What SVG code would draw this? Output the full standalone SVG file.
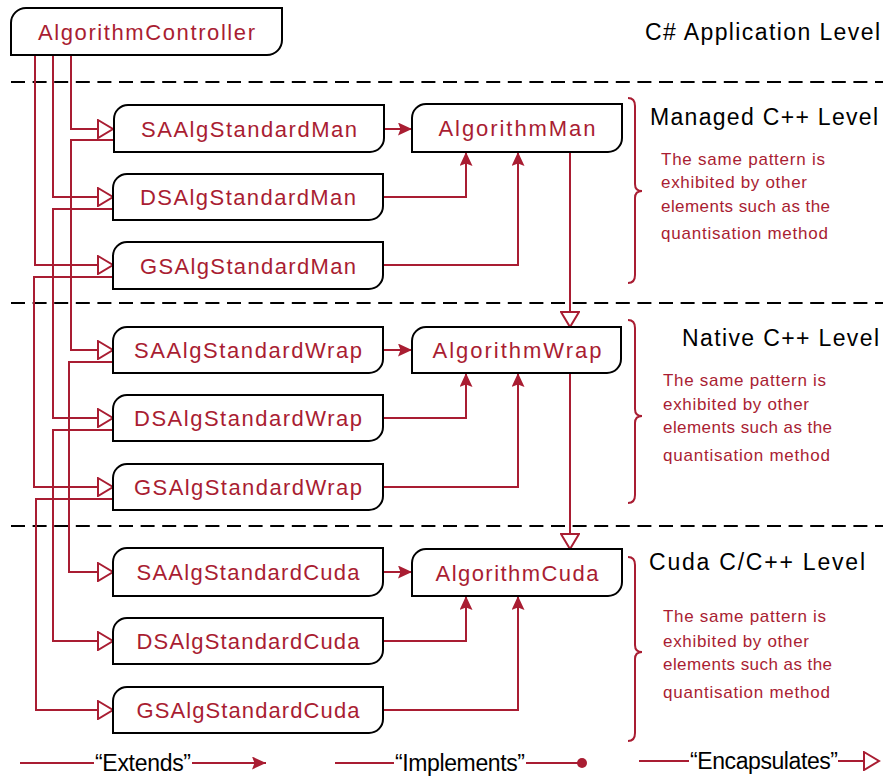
<svg xmlns="http://www.w3.org/2000/svg" width="883" height="776" viewBox="0 0 883 776">
<style>
.node{fill:#fff;stroke:#000;stroke-width:2}
.nt{font-family:"Liberation Sans",Arial,sans-serif;font-size:22px;fill:#a91d32;text-anchor:middle}
.lvl{font-family:"Liberation Sans",Arial,sans-serif;font-size:23px;fill:#000}
.desc{font-family:"Liberation Sans",Arial,sans-serif;font-size:17px;fill:#a91d32}
.leg{font-family:"Liberation Sans",Arial,sans-serif;font-size:23px;fill:#000}
.c{fill:none;stroke:#a91d32;stroke-width:2}
.enc{marker-end:url(#open)}
.imp{marker-end:url(#filled)}
.dash{stroke:#000;stroke-width:2;stroke-dasharray:14 7.6;fill:none}
.brace{fill:none;stroke:#a91d32;stroke-width:2}
</style>
<defs>
<marker id="open" markerUnits="userSpaceOnUse" markerWidth="18" markerHeight="20" refX="15" refY="9" orient="auto" viewBox="-1 -1 18 20">
<path d="M0,0 L15,9 L0,18 Z" fill="#fff" stroke="#a91d32" stroke-width="2" stroke-linejoin="miter"/>
</marker>
<marker id="filled" markerUnits="userSpaceOnUse" markerWidth="16" markerHeight="14" refX="14" refY="6.5" orient="auto" viewBox="0 0 16 14">
<path d="M0,0 L14,6.5 L0,13 L2.5,6.5 Z" fill="#a91d32"/>
</marker>
</defs>
<rect width="883" height="776" fill="#fff"/>

<g id="separators">
<path class="dash" d="M11,82 H883"/>
<path class="dash" d="M11,303 H883"/>
<path class="dash" d="M11,526 H883"/>
</g>

<g id="connectors">
<path class="c enc" d="M71,55 V129 H113"/>
<path class="c enc" d="M53,55 V197 H113"/>
<path class="c enc" d="M35,55 V265 H113"/>
<path class="c enc" d="M113,140 H71 V350 H113"/>
<path class="c enc" d="M113,209 H53 V418 H113"/>
<path class="c enc" d="M113,277 H34 V487 H113"/>
<path class="c enc" d="M113,362 H69 V572 H113"/>
<path class="c enc" d="M113,430 H53 V641 H113"/>
<path class="c enc" d="M113,499 H36 V710 H113"/>
<path class="c imp" d="M384,129 H412"/>
<path class="c imp" d="M383,197 H466 V152"/>
<path class="c imp" d="M383,265 H518 V152"/>
<path class="c imp" d="M383,350 H412"/>
<path class="c imp" d="M383,418 H466 V373"/>
<path class="c imp" d="M383,487 H518 V373"/>
<path class="c imp" d="M383,572 H412"/>
<path class="c imp" d="M383,641 H466 V596"/>
<path class="c imp" d="M383,710 H518 V596"/>
<path class="c enc" d="M570,152 V327"/>
<path class="c enc" d="M570,373 V549"/>
</g>

<g id="AlgorithmController">
<path class="node" d="M11,55 V23 A15,15 0 0 1 26,8 H282 V40 A15,15 0 0 1 267,55 Z"/>
<text class="nt" x="146.5" y="40" textLength="217">AlgorithmController</text>
</g>

<g id="SAAlgStandardMan">
<path class="node" d="M114,152 V119 A14,14 0 0 1 128,105 H384 V138 A14,14 0 0 1 370,152 Z"/>
<text class="nt" x="249" y="137" textLength="216">SAAlgStandardMan</text>
</g>
<g id="DSAlgStandardMan">
<path class="node" d="M113,220 V188 A14,14 0 0 1 127,174 H383 V206 A14,14 0 0 1 369,220 Z"/>
<text class="nt" x="248" y="205" textLength="216">DSAlgStandardMan</text>
</g>
<g id="GSAlgStandardMan">
<path class="node" d="M113,289 V256 A14,14 0 0 1 127,242 H383 V275 A14,14 0 0 1 369,289 Z"/>
<text class="nt" x="248" y="273.5" textLength="216">GSAlgStandardMan</text>
</g>
<g id="AlgorithmMan">
<path class="node" d="M412,152 V118 A14,14 0 0 1 426,104 H622 V138 A14,14 0 0 1 608,152 Z"/>
<text class="nt" x="517" y="136" textLength="157">AlgorithmMan</text>
</g>

<g id="SAAlgStandardWrap">
<path class="node" d="M113,373 V341 A14,14 0 0 1 127,327 H383 V359 A14,14 0 0 1 369,373 Z"/>
<text class="nt" x="248" y="358" textLength="228">SAAlgStandardWrap</text>
</g>
<g id="DSAlgStandardWrap">
<path class="node" d="M113,441 V409 A14,14 0 0 1 127,395 H383 V427 A14,14 0 0 1 369,441 Z"/>
<text class="nt" x="248" y="426" textLength="228">DSAlgStandardWrap</text>
</g>
<g id="GSAlgStandardWrap">
<path class="node" d="M113,510 V478 A14,14 0 0 1 127,464 H383 V496 A14,14 0 0 1 369,510 Z"/>
<text class="nt" x="248" y="495" textLength="228">GSAlgStandardWrap</text>
</g>
<g id="AlgorithmWrap">
<path class="node" d="M412,373 V341 A14,14 0 0 1 426,327 H621 V359 A14,14 0 0 1 607,373 Z"/>
<text class="nt" x="517" y="358" textLength="169">AlgorithmWrap</text>
</g>

<g id="SAAlgStandardCuda">
<path class="node" d="M113,596 V562 A14,14 0 0 1 127,548 H383 V582 A14,14 0 0 1 369,596 Z"/>
<text class="nt" x="248" y="580" textLength="223">SAAlgStandardCuda</text>
</g>
<g id="DSAlgStandardCuda">
<path class="node" d="M113,664 V632 A14,14 0 0 1 127,618 H383 V650 A14,14 0 0 1 369,664 Z"/>
<text class="nt" x="248" y="649" textLength="223">DSAlgStandardCuda</text>
</g>
<g id="GSAlgStandardCuda">
<path class="node" d="M113,733 V701 A14,14 0 0 1 127,687 H383 V719 A14,14 0 0 1 369,733 Z"/>
<text class="nt" x="248" y="718" textLength="223">GSAlgStandardCuda</text>
</g>
<g id="AlgorithmCuda">
<path class="node" d="M412,596 V563 A14,14 0 0 1 426,549 H622 V582 A14,14 0 0 1 608,596 Z"/>
<text class="nt" x="517" y="580.5" textLength="163">AlgorithmCuda</text>
</g>

<g id="levels">
<text class="lvl" x="645" y="40" textLength="235">C# Application Level</text>
<text class="lvl" x="650" y="125" textLength="228">Managed C++ Level</text>
<text class="lvl" x="682" y="346" textLength="197">Native C++ Level</text>
<text class="lvl" x="649" y="570" textLength="216">Cuda C/C++ Level</text>
</g>

<g id="braces">
<path class="brace" d="M628,98 Q635,98 635,106 V184 Q635,191 642,191 Q635,191 635,198 V275 Q635,283 628,283"/>
<path class="brace" d="M628,320 Q635,320 635,328 V409 Q635,416 642,416 Q635,416 635,423 V495 Q635,503 628,503"/>
<path class="brace" d="M628,557 Q635,557 635,565 V645 Q635,652 642,652 Q635,652 635,659 V733 Q635,741 628,741"/>
</g>

<g id="notes">
<text class="desc" x="661" y="165" textLength="164">The same pattern is</text>
<text class="desc" x="661" y="188" textLength="146">exhibited by other</text>
<text class="desc" x="661" y="212" textLength="169">elements such as the</text>
<text class="desc" x="661" y="239" textLength="167">quantisation method</text>
<text class="desc" x="663" y="386" textLength="163">The same pattern is</text>
<text class="desc" x="663" y="410" textLength="146">exhibited by other</text>
<text class="desc" x="663" y="433" textLength="169">elements such as the</text>
<text class="desc" x="663" y="461" textLength="167">quantisation method</text>
<text class="desc" x="663" y="622" textLength="163">The same pattern is</text>
<text class="desc" x="663" y="647" textLength="146">exhibited by other</text>
<text class="desc" x="663" y="670" textLength="169">elements such as the</text>
<text class="desc" x="663" y="698" textLength="167">quantisation method</text>
</g>

<g id="legend">
<path class="c" d="M20,763 H94"/>
<text class="leg" x="95" y="771" textLength="96">“Extends”</text>
<path class="c imp" d="M192,763 H266"/>
<path class="c" d="M335,763 H394"/>
<text class="leg" x="395" y="771" textLength="130">“Implements”</text>
<path class="c" d="M526,763 H582"/>
<circle cx="582" cy="763" r="5" fill="#a91d32"/>
<path class="c" d="M639,761 H689"/>
<text class="leg" x="690" y="769" textLength="148">“Encapsulates”</text>
<path class="c enc" d="M838,761 H879"/>
</g>
</svg>
